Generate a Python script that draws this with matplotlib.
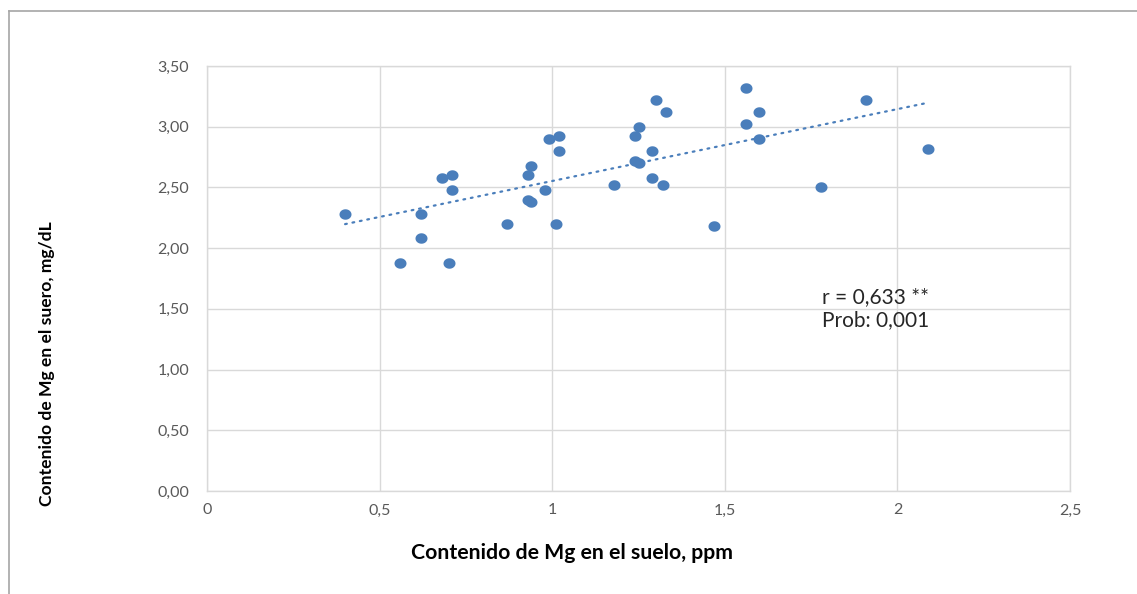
import numpy as np
import matplotlib
matplotlib.use('Agg')
import matplotlib.pyplot as plt
from matplotlib.path import Path
from matplotlib.lines import Line2D

# Datos: Mg en suelo (ppm) vs Mg en suero (mg/dL)
mg_suelo = [0.40, 0.62, 0.62, 0.56, 0.70, 0.68, 0.71, 0.71, 0.87, 0.93,
            0.94, 0.93, 0.94, 0.98, 1.01, 0.99, 1.02, 1.02, 1.18, 1.24,
            1.25, 1.30, 1.33, 1.29, 1.24, 1.25, 1.29, 1.32, 1.56, 1.60,
            1.56, 1.60, 1.47, 1.78, 1.91, 2.09]
mg_suero = [2.28, 2.28, 2.08, 1.88, 1.88, 2.58, 2.60, 2.48, 2.20, 2.60,
            2.68, 2.40, 2.38, 2.48, 2.20, 2.90, 2.92, 2.80, 2.52, 2.92,
            3.00, 3.22, 3.12, 2.80, 2.72, 2.70, 2.58, 2.52, 3.32, 3.12,
            3.02, 2.90, 2.18, 2.50, 3.22, 2.82]

x_ticks = [0, 0.5, 1, 1.5, 2, 2.5]
x_labels = ['0', '0,5', '1', '1,5', '2', '2,5']
y_ticks = [0, 0.5, 1, 1.5, 2, 2.5, 3, 3.5]
y_labels = ['0,00', '0,50', '1,00', '1,50', '2,00', '2,50', '3,00', '3,50']

azul = '#4A7EBB'
gris = '#D9D9D9'

W, H = 1137, 594
fig = plt.figure(figsize=(W / 100, H / 100), dpi=100)
ax = fig.add_axes([207 / W, 103 / H, 863 / W, 425 / H])

# marcador elíptico como en Excel (un poco más ancho que alto)
t = np.linspace(0, 2 * np.pi, 40)
elipse = Path(np.column_stack([1.15 * np.cos(t), np.sin(t)]), closed=True)

ax.scatter(mg_suelo, mg_suero, s=75, marker=elipse, color=azul, zorder=3,
           linewidths=0)

# línea de tendencia lineal
a, b = np.polyfit(mg_suelo, mg_suero, 1)
xs = np.array([min(mg_suelo), max(mg_suelo)])
ax.plot(xs, a * xs + b, color=azul, lw=1.6, linestyle=(0, (0.8, 2.6)),
        dash_capstyle='round', zorder=2)

ax.set_xlim(0, 2.5)
ax.set_ylim(0, 3.5)
ax.set_xticks(x_ticks)
ax.set_xticklabels(x_labels)
ax.set_yticks(y_ticks)
ax.set_yticklabels(y_labels)
ax.grid(True, color=gris, lw=1)
ax.set_axisbelow(True)
for s in ax.spines.values():
    s.set_color(gris)
    s.set_linewidth(1)
ax.tick_params(length=0, labelsize=11.5, colors='#595959')
ax.tick_params(axis='y', pad=13)
ax.tick_params(axis='x', pad=9)
for lbl in ax.get_xticklabels() + ax.get_yticklabels():
    lbl.set_family('Lato')

# títulos de ejes
fig.text(572 / W, 1 - 553 / H, 'Contenido de Mg en el suelo, ppm',
         fontsize=15.3, fontweight='bold', family='Lato', color='black',
         ha='center', va='center')
fig.text(47 / W, 1 - 364 / H, 'Contenido de Mg en el suero, mg/dL',
         fontsize=12.6, fontweight='bold', family='Lato', color='black',
         ha='center', va='center', rotation=90)

ax.text(1.783, 1.598, 'r = 0,633 **', fontsize=15, family='Lato',
        color='#262626', va='center')
ax.text(1.783, 1.409, 'Prob: 0,001', fontsize=15, family='Lato',
        color='#262626', va='center')

# marco exterior del gráfico (solo arriba e izquierda visibles)
fig.add_artist(Line2D([9 / W, 1], [1 - 11 / H, 1 - 11 / H],
                      color='#A6A6A6', lw=1.2, transform=fig.transFigure))
fig.add_artist(Line2D([9 / W, 9 / W], [0, 1 - 11 / H],
                      color='#A6A6A6', lw=1.2, transform=fig.transFigure))

fig.savefig('out.png', dpi=100, facecolor='white')
